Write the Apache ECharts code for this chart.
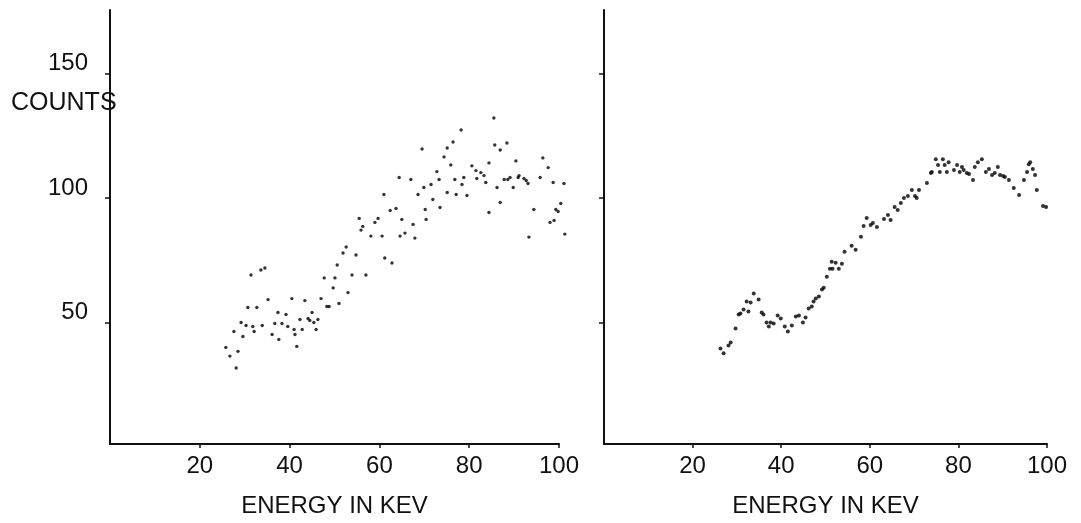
<!DOCTYPE html>
<html>
<head>
<meta charset="utf-8">
<script src="https://cdn.jsdelivr.net/npm/echarts@6/dist/echarts.min.js"></script>
<style>
  html, body { margin: 0; padding: 0; background: #fff; }
  #chart { width: 1081px; height: 523px; }
</style>
</head>
<body>
<div id="chart"></div>
<script>
// Raw spectrum: individual channel counts (scattered)
const rawEnergy = [
  25.8, 26.7, 28.1, 28.5, 27.6, 29.6, 29.2, 30.3, 31.8, 32.1, 30.7, 32.7, 31.4, 33.6, 34.5, 33.9,
  35.2, 36.1, 36.7, 37.4, 37.6, 38.3, 39.2, 39.6, 40.5, 41.0, 41.2, 41.6, 42.3, 42.8, 43.4, 44.1,
  44.5, 45.0, 45.4, 45.9, 46.3, 47.0, 47.7, 48.3, 48.8, 49.7, 50.1, 50.6, 51.0, 51.9, 52.6, 53.0,
  53.9, 54.8, 55.5, 55.9, 56.3, 57.0, 58.1, 59.0, 59.7, 60.6, 61.0, 61.2, 62.4, 62.8, 63.7, 64.4,
  65.0, 65.7, 64.6, 67.5, 67.9, 67.0, 69.5, 69.9, 68.6, 70.2, 70.4, 71.5, 71.9, 72.8, 73.3, 73.5,
  74.4, 75.1, 75.1, 75.9, 76.4, 76.8, 77.1, 78.2, 78.4, 78.8, 79.5, 80.6, 81.5, 81.7, 82.6, 83.3,
  83.7, 84.4, 84.4, 85.5, 85.7, 86.2, 86.9, 86.9, 87.8, 88.4, 88.6, 89.1, 89.8, 90.4, 90.9, 91.1,
  92.2, 92.7, 93.1, 93.3, 94.4, 95.8, 96.4, 97.6, 98.0, 98.7, 98.9, 99.3, 99.8, 100.4, 101.1, 101.3
];
const rawCounts = [
  40.0, 36.5, 31.7, 38.4, 46.4, 44.4, 50.0, 48.8, 48.4, 46.4, 56.0, 56.0, 69.1, 71.1, 71.9, 48.8,
  59.2, 45.2, 49.6, 54.0, 43.2, 49.6, 53.2, 48.4, 59.6, 47.2, 45.2, 40.4, 51.2, 47.2, 58.8, 51.6,
  50.8, 54.0, 50.0, 47.2, 51.2, 59.6, 67.9, 56.4, 56.4, 63.9, 67.9, 73.1, 57.6, 77.9, 80.3, 62.0,
  69.1, 77.1, 91.8, 87.1, 88.6, 69.1, 84.7, 90.2, 91.8, 84.7, 101.4, 75.9, 95.0, 73.9, 95.8, 108.2,
  91.4, 85.9, 84.7, 89.4, 83.9, 107.4, 119.7, 104.2, 101.4, 95.4, 91.4, 105.4, 99.4, 110.6, 107.4, 96.2,
  116.5, 102.2, 120.1, 113.3, 122.5, 107.4, 101.4, 127.3, 105.4, 108.2, 101.0, 112.9, 111.0, 107.8, 110.2, 109.0,
  106.2, 114.1, 94.2, 132.1, 121.3, 104.2, 119.3, 98.2, 107.4, 122.1, 107.4, 108.2, 104.2, 114.9, 108.2, 109.0,
  107.8, 107.0, 105.8, 84.3, 95.4, 108.2, 116.1, 112.2, 90.2, 106.2, 91.0, 95.4, 94.6, 97.8, 105.8, 85.5
];

// Smoothed spectrum
const smoothEnergy = [
  26.3, 27.0, 28.1, 28.6, 29.7, 30.4, 30.8, 31.5, 32.2, 32.6, 33.1, 33.8, 34.9, 35.6, 36.0, 36.7,
  37.2, 37.6, 38.3, 39.2, 39.9, 40.8, 41.5, 42.4, 43.3, 44.0, 44.9, 45.5, 46.2, 46.9, 47.3, 47.8,
  48.5, 49.2, 49.6, 50.3, 51.0, 51.6, 51.4, 52.3, 53.0, 53.7, 54.3, 55.9, 56.8, 58.0, 58.6, 59.3,
  60.2, 60.7, 61.6, 63.2, 64.1, 64.7, 65.6, 66.3, 67.0, 67.7, 68.6, 69.5, 70.2, 70.6, 71.1, 72.9,
  73.8, 74.0, 74.9, 75.4, 75.8, 76.5, 76.9, 77.4, 77.8, 79.0, 79.7, 80.3, 80.8, 81.2, 81.9, 82.4,
  83.3, 83.7, 84.4, 85.3, 86.2, 86.9, 87.6, 88.2, 88.9, 89.4, 90.1, 90.5, 91.4, 92.5, 93.7, 94.8,
  95.5, 95.9, 96.2, 96.8, 97.3, 97.7, 99.1, 99.8
];
const smoothCounts = [
  39.6, 37.6, 40.8, 42.0, 47.6, 53.2, 53.6, 55.2, 58.4, 54.4, 58.0, 61.6, 59.2, 54.0, 53.2, 50.0,
  48.4, 50.0, 49.6, 52.8, 51.6, 48.4, 46.4, 48.8, 52.4, 52.8, 50.0, 52.0, 55.6, 56.4, 58.4, 59.6,
  60.4, 63.2, 64.0, 68.4, 71.6, 71.6, 74.4, 74.0, 71.6, 73.6, 78.4, 80.8, 79.2, 84.4, 88.8, 92.0,
  89.2, 90.0, 88.4, 91.6, 93.2, 91.2, 96.4, 95.2, 98.0, 100.0, 100.8, 103.2, 100.8, 100.0, 103.2, 106.0,
  110.0, 110.4, 115.6, 113.2, 110.4, 115.6, 113.2, 110.4, 114.4, 111.2, 113.2, 110.4, 112.4, 111.2, 110.0, 109.6,
  107.2, 112.4, 114.4, 115.6, 110.4, 111.6, 109.2, 110.0, 112.4, 109.2, 108.8, 108.4, 107.2, 104.0, 101.2, 107.2,
  110.4, 113.6, 114.4, 111.6, 109.2, 103.2, 96.8, 96.4
];

const xTicks = [20, 40, 60, 80, 100];
const yTicks = [50, 100, 150];
const xTitle = 'ENERGY IN KEV';
const yTitle = 'COUNTS';

const ink = '#111';
const dot = '#000';
const font = '"Liberation Sans", Arial, sans-serif';

function pairs(xs, ys) { return xs.map((x, i) => [x, ys[i]]); }

function xAxisCfg(idx) {
  return {
    type: 'value', gridIndex: idx, min: 0, max: 100,
    axisLine: { onZero: false, lineStyle: { color: ink, width: 2 } },
    axisTick: { customValues: xTicks, length: 4, lineStyle: { color: ink, width: 1.5 } },
    axisLabel: { customValues: xTicks, color: ink, fontFamily: font, fontSize: 24, margin: 10 },
    splitLine: { show: false },
    name: xTitle, nameLocation: 'middle', nameGap: 50,
    nameTextStyle: { color: ink, fontFamily: font, fontSize: 24 }
  };
}

function yAxisCfg(idx, labels) {
  return {
    type: 'value', gridIndex: idx, min: 1.2, max: 175.5,
    axisLine: { onZero: false, lineStyle: { color: ink, width: 2 } },
    axisTick: { customValues: yTicks, length: 5, lineStyle: { color: ink, width: 1.5 } },
    axisLabel: {
      show: labels, customValues: yTicks, color: ink, fontFamily: font, fontSize: 24,
      margin: 22, verticalAlign: 'bottom', lineHeight: 20
    },
    splitLine: { show: false }
  };
}

const chart = echarts.init(document.getElementById('chart'), null, { renderer: 'canvas' });
chart.setOption({
  backgroundColor: '#fff',
  animation: false,
  grid: [
    { left: 110, top: 10, width: 449, height: 435 },
    { left: 604, top: 10, width: 443, height: 435 }
  ],
  xAxis: [xAxisCfg(0), xAxisCfg(1)],
  yAxis: [yAxisCfg(0, true), yAxisCfg(1, false)],
  graphic: [{
    type: 'text', left: 11, top: 91,
    style: { text: yTitle, fill: ink, font: '25px ' + font }
  }],
  series: [
    {
      type: 'scatter', xAxisIndex: 0, yAxisIndex: 0, clip: false,
      data: pairs(rawEnergy, rawCounts),
      symbol: 'circle', symbolSize: 3.4,
      itemStyle: { color: dot }
    },
    {
      type: 'scatter', xAxisIndex: 1, yAxisIndex: 1, clip: false,
      data: pairs(smoothEnergy, smoothCounts),
      symbol: 'circle', symbolSize: 4,
      itemStyle: { color: dot }
    }
  ]
});
</script>
</body>
</html>
